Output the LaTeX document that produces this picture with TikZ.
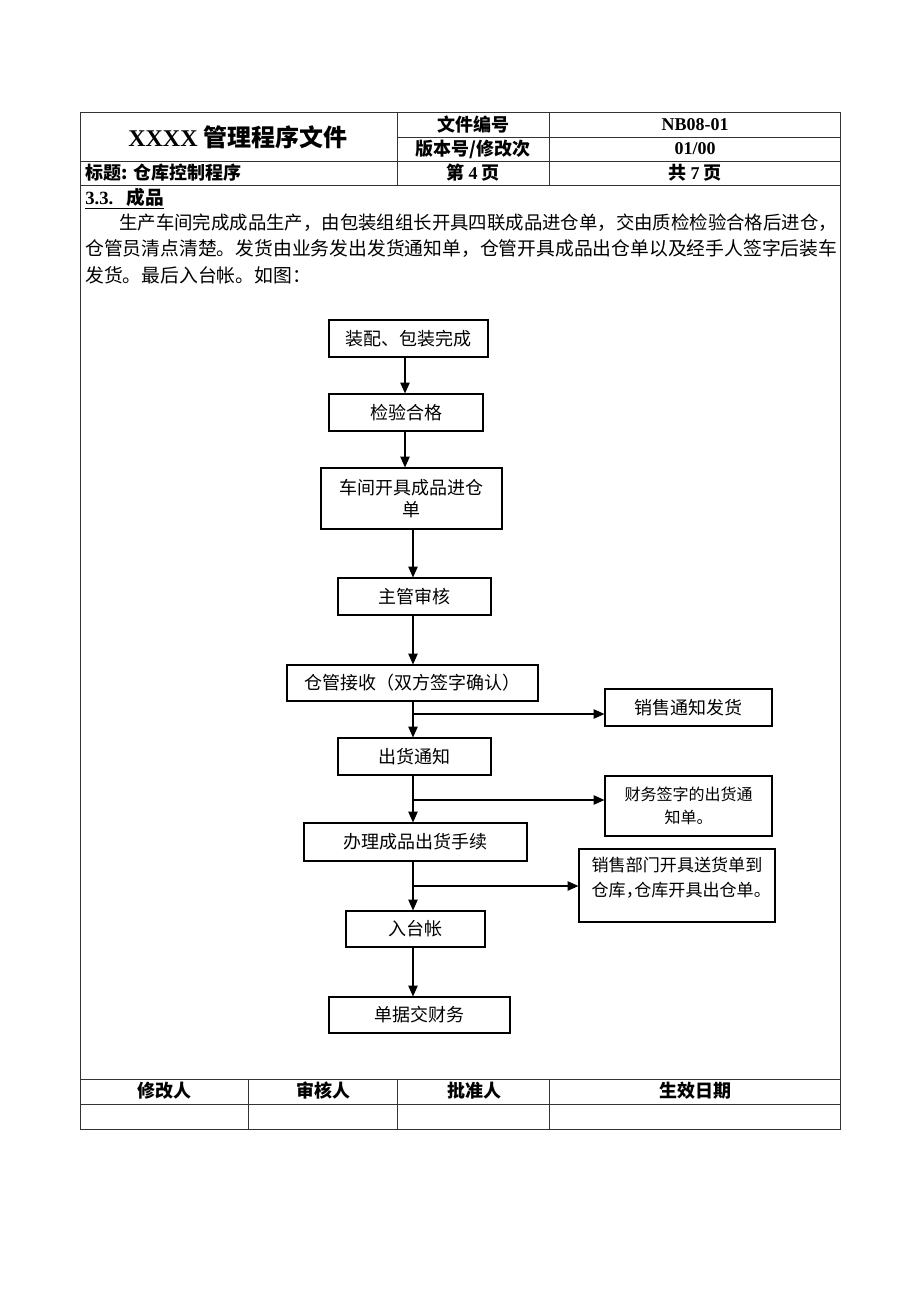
\documentclass[tikz,border=0pt]{standalone}
\usepackage{fontspec}
\setmainfont{Liberation Serif}
\newfontfamily\cjk{Noto Sans CJK SC}
\usetikzlibrary{arrows.meta}
\newcommand{\hcomma}{\makebox[0.5em][l]{，}}
\newcommand{\hstop}{\makebox[0.5em][l]{。}}
\tikzset{
  tbl/.style={draw=black!80, line width=0.6pt},
  fbox/.style={draw=black, line width=0.9pt, inner sep=0pt, align=center,
    font=\cjk\fontsize{13.5pt}{16.5pt}\selectfont},
  sbox/.style={draw=black, line width=0.9pt, inner sep=0pt, align=center,
    font=\cjk\fontsize{12pt}{17pt}\selectfont},
  conn/.style={line width=0.8pt, -{Triangle[length=8pt,width=7pt]}},
  hd/.style={font=\cjk\bfseries\fontsize{13.5pt}{16pt}\selectfont},
  para/.style={anchor=west, inner sep=0pt, font=\cjk\fontsize{14.1pt}{17pt}\selectfont}
}
\begin{document}
\begin{tikzpicture}[x=0.75pt,y=-0.75pt]
\useasboundingbox[fill=white] (0,0) rectangle (920,1302);
% table frame
\draw[tbl] (80,112) rectangle (840,1129);
\draw[tbl] (397,137) -- (840,137);
\draw[tbl] (80,161) -- (840,161);
\draw[tbl] (80,185) -- (840,185);
\draw[tbl] (397,112) -- (397,185);
\draw[tbl] (549,112) -- (549,185);
\draw[tbl] (80,1079) -- (840,1079);
\draw[tbl] (80,1104) -- (840,1104);
\draw[tbl] (248,1079) -- (248,1129);
\draw[tbl] (397,1079) -- (397,1129);
\draw[tbl] (549,1079) -- (549,1129);
% header texts
\node[inner sep=0pt] (title) at (238,137) {\fontsize{18pt}{20pt}\selectfont\bfseries XXXX {\cjk\bfseries 管理程序文件}};
\node[hd] (h1) at (473,125) {文件编号};
\node[inner sep=0pt, font=\bfseries\fontsize{13.5pt}{16pt}\selectfont] (h2) at (695,125) {NB08-01};
\node[hd] (h3) at (473,149) {版本号/修改次};
\node[inner sep=0pt, font=\bfseries\fontsize{13.5pt}{16pt}\selectfont] (h4) at (695,149) {01/00};
\node[hd, anchor=west, inner sep=0pt] (h5) at (85,173) {标题: 仓库控制程序};
\node[hd] (h6) at (473,173) {第 {\rmfamily\bfseries 4} 页};
\node[hd] (h7) at (695,173) {共 {\rmfamily\bfseries 7} 页};
% section heading and paragraph
\node[anchor=west, inner sep=0pt] (sec) at (85,199) {\fontsize{14pt}{16pt}\selectfont\underline{\bfseries 3.3.\hspace{0.7em}{\cjk\bfseries 成品}}};
\node[para, font=\cjk\fontsize{13.8pt}{17pt}\selectfont] (p1) at (119,223) {生产车间完成成品生产，由包装组组长开具四联成品进仓单，交由质检检验合格后进仓，};
\node[para] (p2) at (85,249) {仓管员清点清楚。发货由业务发出发货通知单，仓管开具成品出仓单以及经手人签字后装车};
\node[para] (p3) at (85,275) {发货。最后入台帐。如图：};
% flowchart
\node[fbox, minimum width=119.25pt, minimum height=27.75pt] (b1) at (408.5,338.5) {装配、包装完成};
\node[fbox, minimum width=115.5pt, minimum height=27.75pt] (b2) at (406,412.5) {检验合格};
\node[fbox, minimum width=135.75pt, minimum height=45.75pt] (b3) at (411.5,498.5) {车间开具成品进仓\\单};
\node[fbox, minimum width=114.75pt, minimum height=27.75pt] (b4) at (414.5,596.5) {主管审核};
\node[fbox, minimum width=188.25pt, minimum height=27pt] (b5) at (412.5,683) {仓管接收（双方签字确认）};
\node[fbox, minimum width=125.25pt, minimum height=27.75pt] (r1) at (688.5,707.5) {销售通知发货};
\node[fbox, minimum width=114.75pt, minimum height=27.75pt] (b6) at (414.5,756.5) {出货通知};
\node[sbox, minimum width=125.25pt, minimum height=45pt] (r2) at (688.5,806) {财务签字的出货通\\知单。};
\node[fbox, minimum width=167.25pt, minimum height=28.5pt] (b7) at (415.5,842) {办理成品出货手续};
\node[sbox, minimum width=147pt, minimum height=54.75pt, align=left,
  font=\cjk\fontsize{12.8pt}{18.75pt}\selectfont] (r3) at (677,885.5) {销售部门开具送货单到\\仓库\hcomma 仓库开具出仓单\hstop\\[-11pt]\strut};
\node[fbox, minimum width=104.25pt, minimum height=27pt] (b8) at (415.5,929) {入台帐};
\node[fbox, minimum width=135.75pt, minimum height=27pt] (b9) at (419.5,1015) {单据交财务};
% connectors
\coordinate (spA) at (405,0);
\coordinate (sp) at (413,0);
\coordinate (j1) at (413,714);
\coordinate (j2) at (413,800);
\coordinate (j3) at (413,886);
\draw[conn] (b1.south -| spA) -- (b2.north -| spA);
\draw[conn] (b2.south -| spA) -- (b3.north -| spA);
\draw[conn] (b3.south -| sp) -- (b4.north -| sp);
\draw[conn] (b4.south -| sp) -- (b5.north -| sp);
\draw[conn] (b5.south -| sp) -- (b6.north -| sp);
\draw[conn] (j1) -- (r1.west |- j1);
\draw[conn] (b6.south -| sp) -- (b7.north -| sp);
\draw[conn] (j2) -- (r2.west |- j2);
\draw[conn] (b7.south -| sp) -- (b8.north -| sp);
\draw[conn] (j3) -- (r3.west |- j3);
\draw[conn] (b8.south -| sp) -- (b9.north -| sp);
% footer texts
\node[hd] (f1) at (164,1091) {修改人};
\node[hd] (f2) at (323,1091) {审核人};
\node[hd] (f3) at (474,1091) {批准人};
\node[hd] (f4) at (695,1091) {生效日期};
\end{tikzpicture}
\end{document}
